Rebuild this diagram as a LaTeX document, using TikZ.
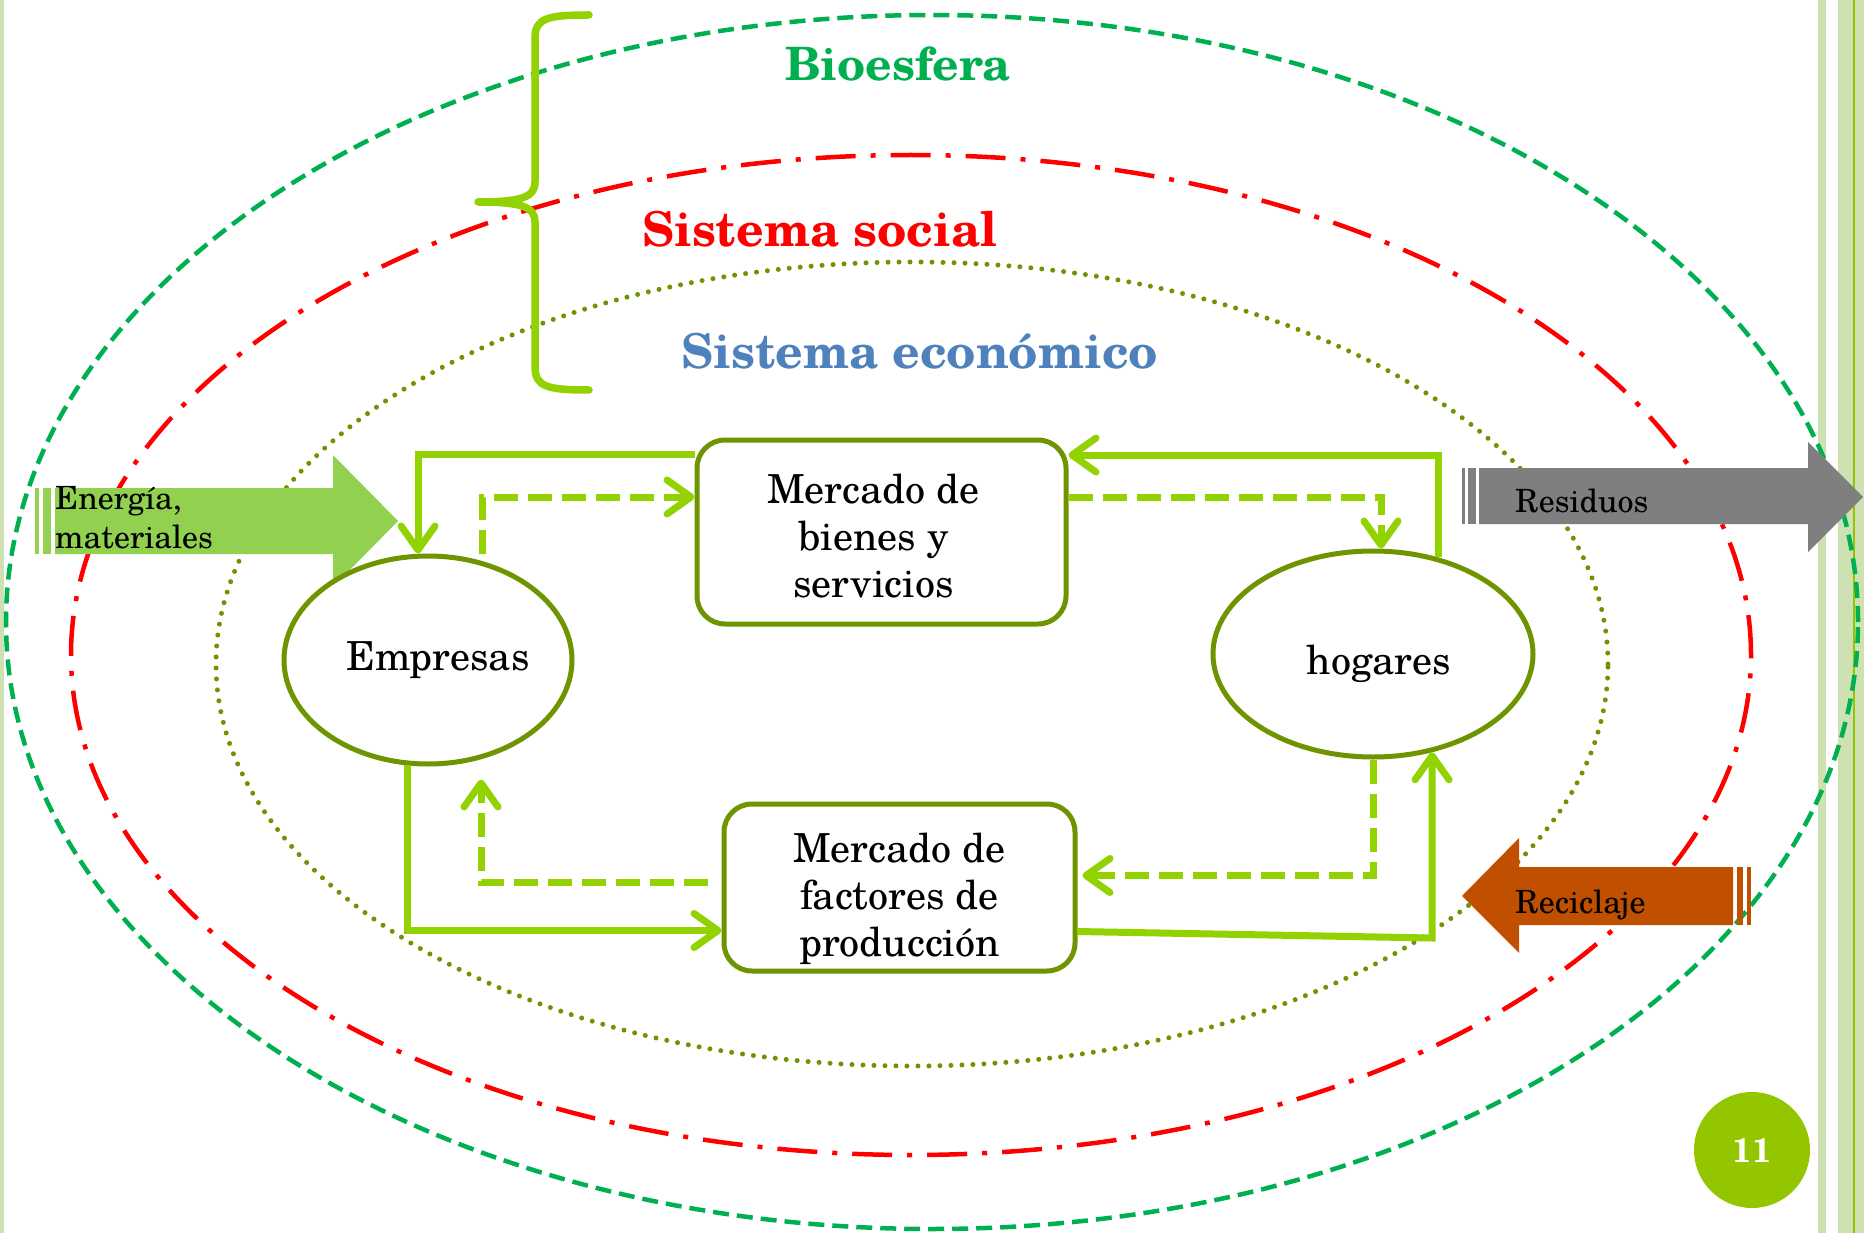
\documentclass[tikz,border=0pt]{standalone}
\usepackage{fontspec}
\setmainfont{TeX Gyre Schola}
\usetikzlibrary{arrows.meta,shapes.geometric,calc}
\definecolor{limez}{RGB}{146,210,0}
\definecolor{olivez}{RGB}{110,148,0}
\definecolor{bioc}{RGB}{0,176,80}
\definecolor{socialc}{RGB}{255,0,0}
\definecolor{econc}{RGB}{79,129,189}
\definecolor{energc}{RGB}{146,208,80}
\definecolor{resc}{RGB}{127,127,127}
\definecolor{recc}{RGB}{192,80,0}
\definecolor{stripec}{RGB}{205,225,178}
\definecolor{pagec}{RGB}{148,198,0}
\begin{document}
\begin{tikzpicture}[x=1pt,y=-1pt,
  limeline/.style={draw=limez, line width=7pt},
  flowsolid/.style={limeline, -{Straight Barb[length=24pt,width=34pt,round]}},
  flowdash/.style={flowsolid, dash pattern=on 24pt off 10pt},
  boxnode/.style={draw=olivez, line width=5pt, rounded corners=28pt, fill=white,
    align=center, inner sep=0pt, font=\fontsize{40}{47}\selectfont},
  ellnode/.style={ellipse, draw=olivez, line width=5pt, fill=white, inner sep=0pt,
    font=\fontsize{40}{50}\selectfont},
  title/.style={anchor=base, inner sep=0pt, font=\fontsize{48}{60}\selectfont\bfseries},
  blocktext/.style={inner sep=0pt, font=\fontsize{32}{39}\selectfont}
]
\useasboundingbox (0,0) rectangle (1864,1233);
\fill[white] (0,0) rectangle (1864,1233);
% side stripes
\fill[stripec] (0,0) rectangle (4,1233);
\fill[stripec] (1818,0) rectangle (1826,1233);
\fill[stripec] (1838,0) rectangle (1864,1233);
\fill[pagec] (1852.5,0) rectangle (1854.5,1233);

% system ellipses
\draw[bioc, line width=4.5pt, dash pattern=on 16pt off 8pt]
  (932,622) ellipse [x radius=926pt, y radius=607pt];
\draw[socialc, line width=4.5pt, dash pattern=on 40pt off 15pt on 5pt off 15pt]
  (911,655) ellipse [x radius=840pt, y radius=500pt];
\draw[olivez, line width=5pt, dash pattern=on 0pt off 11pt, line cap=round]
  (912,664) ellipse [x radius=696pt, y radius=402pt];

% brace
\draw[limez, line width=7.5pt, line cap=round, line join=round]
  (589,15) .. controls (548,15) and (535,18) .. (535,38) -- (535,182)
  .. controls (535,197) and (522,202) .. (478,202)
  .. controls (522,202) and (535,207) .. (535,222) -- (535,367)
  .. controls (535,387) and (548,390) .. (589,390);

% titles
\node[title, text=bioc, font=\fontsize{46}{60}\selectfont\bfseries] (bio) at (898,81) {Bioesfera};
\node[title, text=socialc] (soc) at (820,247) {Sistema social};
\node[title, text=econc] (eco) at (920,369) {Sistema económico};

% block arrows
\fill[energc] (55,488) -- (333,488) -- (333,455) -- (398,521) -- (333,587) -- (333,554) -- (55,554) -- cycle;
\fill[energc] (35,488) rectangle (39,554);
\fill[energc] (43,488) rectangle (51,554);
\node[blocktext, align=left, anchor=west] (energia) at (55,518) {Energía,\\materiales};

\fill[resc] (1479,468) -- (1808,468) -- (1808,442) -- (1863,497) -- (1808,552) -- (1808,524) -- (1479,524) -- cycle;
\fill[resc] (1462,468) rectangle (1465,524);
\fill[resc] (1468,468) rectangle (1476,524);
\node[blocktext, anchor=base west] (resid) at (1515,512) {Residuos};

\fill[recc] (1733,867) -- (1519,867) -- (1519,838) -- (1462,896) -- (1519,953) -- (1519,925) -- (1733,925) -- cycle;
\fill[recc] (1737,867) rectangle (1743,925);
\fill[recc] (1747,867) rectangle (1751,925);
\node[blocktext, anchor=base west] (recic) at (1515,913) {Reciclaje};

% main nodes
\node[boxnode, minimum width=369pt, minimum height=184pt] (mbs) at (881.5,532)
  {\rule{0pt}{38pt}Mercado de\kern16pt\\bienes y\kern16pt\\servicios\kern16pt};
\node[boxnode, minimum width=351pt, minimum height=167pt] (mfp) at (899.5,887.5)
  {\rule{0pt}{52pt}Mercado de\\factores de\\producción};
\node[ellnode, minimum width=288pt, minimum height=208pt] (emp) at (428,660)
  {\hspace*{20pt}Empresas};
\node[ellnode, minimum width=320pt, minimum height=206pt] (hog) at (1373,654)
  {\rule{0pt}{50pt}\hspace*{12pt}hogares};

% connectors
\coordinate (c8) at (1431,938);
\draw[flowsolid] ([yshift=78pt]mbs.west) -| ([xshift=-10pt]emp.north);
\draw[flowdash] ([xshift=54pt]emp.north) |- ([yshift=35pt]mbs.west);
\draw[flowdash] ([yshift=35pt]mbs.east) -| ([xshift=8pt]hog.north);
\draw[flowsolid] (hog.56) |- ([yshift=77pt]mbs.east);
\draw[flowsolid] (emp.-101.5) |- ([yshift=-43pt]mfp.west);
\draw[flowdash, shorten <=14pt, shorten >=13pt] ([yshift=5pt]mfp.west) -| ([xshift=53pt]emp.south);
\draw[flowdash, shorten >=5pt] (hog.south) |- ([yshift=12pt]mfp.east);
\draw[flowsolid] ([yshift=-44pt]mfp.east) -- (hog.-59 |- c8) -- (hog.-59);

% page number
\node[circle, fill=pagec, minimum size=116pt, inner sep=0pt, text=white,
  font=\fontsize{34}{40}\selectfont\bfseries] (pnum) at (1752,1150) {11};
\end{tikzpicture}
\end{document}
